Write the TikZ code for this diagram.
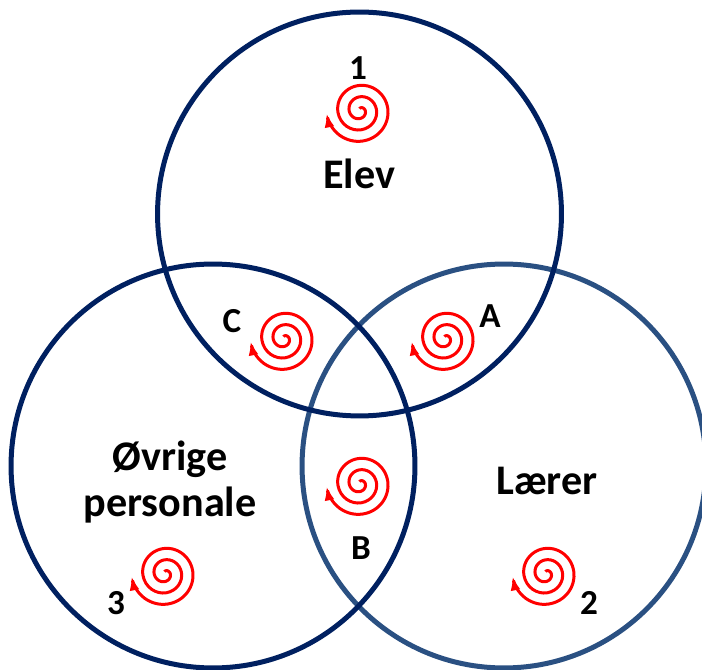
\documentclass[tikz,border=0pt]{standalone}
\usepackage{fontspec}
\setmainfont{Carlito}
\usetikzlibrary{arrows.meta}

\definecolor{navy}{RGB}{0,32,96}
\definecolor{steel}{RGB}{42,80,130}

\tikzset{
	ring/.style = {line width = 0.1 cm, draw = #1},
	tag/.style = {font = \bfseries\fontsize{20}{20}\selectfont, text = black, inner sep = 0 pt},
	word/.style = {font = \bfseries\fontsize{24}{26}\selectfont, text = black, inner sep = 0 pt, align = center},
	swirl/.pic = {
		\draw [red, line width = 0.06 cm, -{Latex[length=0.28cm, width=0.2cm]}]
			plot [domain = 1000 : 0, samples = 90, smooth, variable = \t]
				(185 + \t : {33.5 * (1 - \t / 1060)});
	}
}

\begin{document}
\begin{tikzpicture}[x = 0.02 cm, y = 0.02 cm]

	\useasboundingbox (0, 0) rectangle (702, 669);

	% Circles
	
	\draw [ring = steel] (504, 203) circle (4.04 cm);
	\draw [ring = navy] (213, 203) circle (4.04 cm);
	\draw [ring = navy] (359.5, 455) circle (4.04 cm);
	
	% Swirls
	
	\pic at (360, 558.5) {swirl};
	\pic at (284, 330.5) {swirl};
	\pic at (445, 330.5) {swirl};
	\pic at (360, 185.5) {swirl};
	\pic at (165, 95.5) {swirl};
	\pic at (546, 95.5) {swirl};
	
	% Names
	
	\node [word] (elev) at (359, 495) {Elev};
	\node [word] (ovrige) at (170, 187) {Øvrige\\personale};
	\node [word] (laerer) at (547, 188) {Lærer};
	
	% Letters and numbers
	
	\node [tag] (one) at (358, 601) {1};
	\node [tag] (two) at (589, 66) {2};
	\node [tag] (three) at (116, 66) {3};
	\node [tag] (tagA) at (490, 353) {A};
	\node [tag] (tagB) at (361, 121) {B};
	\node [tag] (tagC) at (232, 348) {C};
	
\end{tikzpicture}
\end{document}
